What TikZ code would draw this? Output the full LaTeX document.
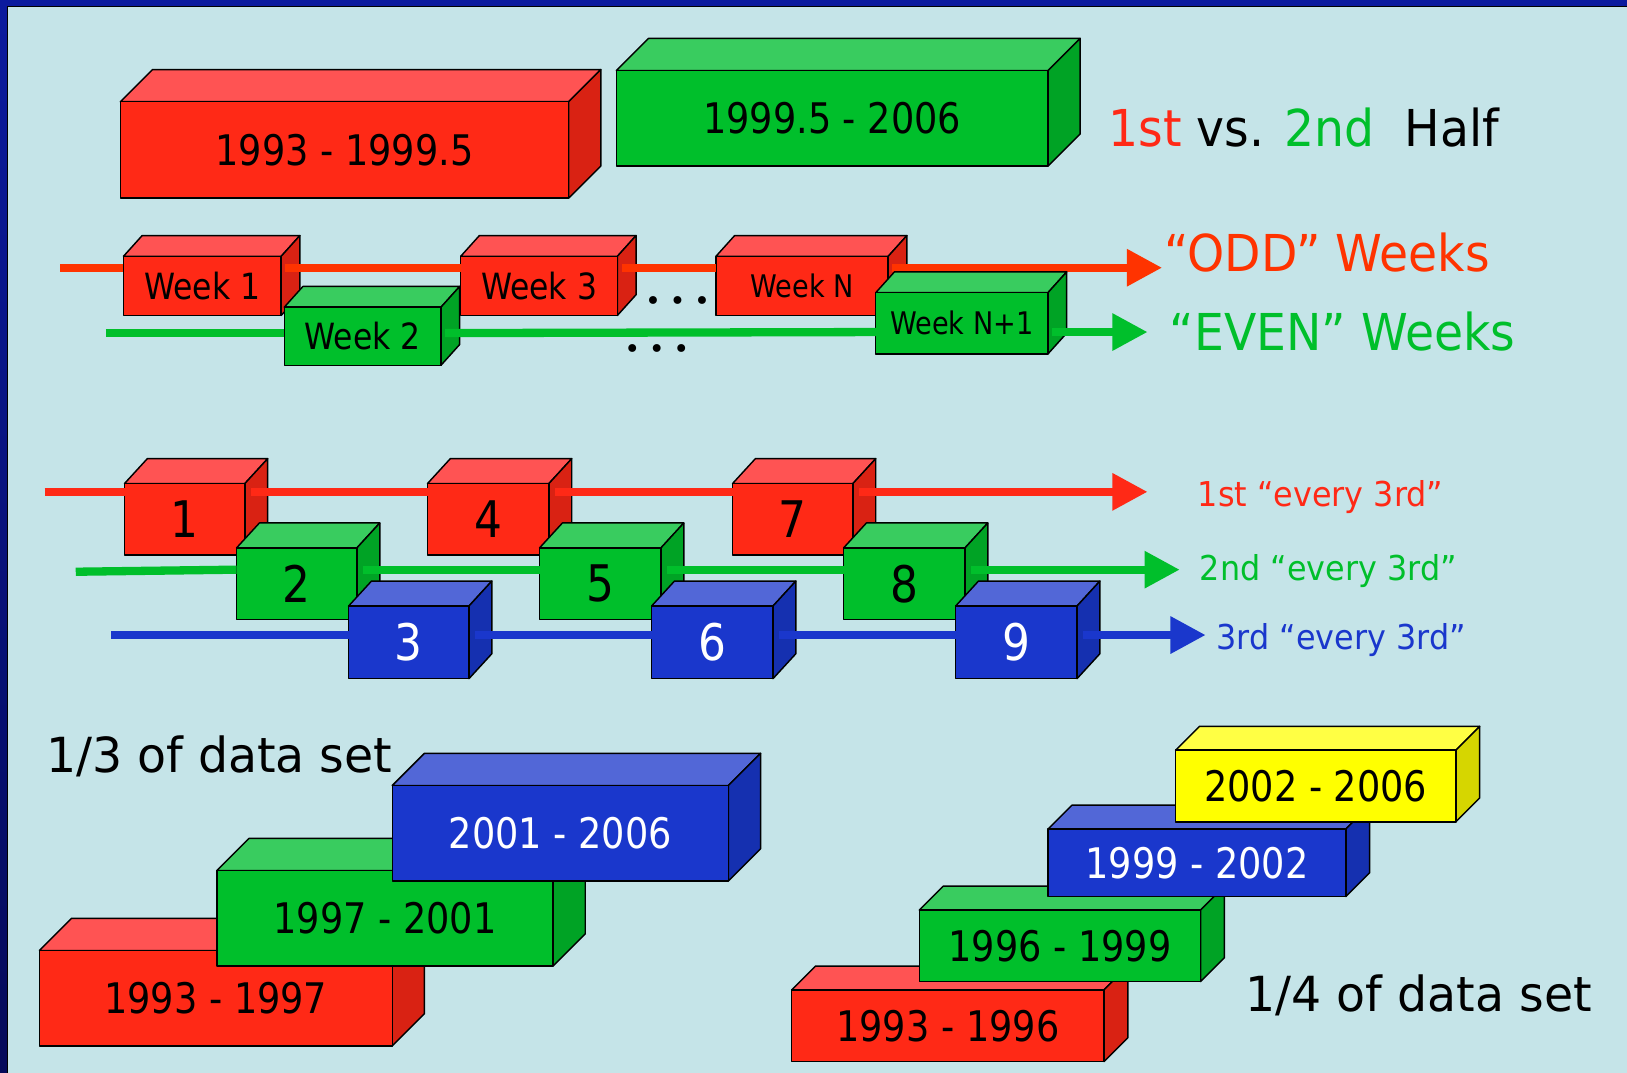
\documentclass[tikz,border=0pt]{standalone}
\usepackage{fontspec}
\setmainfont{DejaVu Sans}
\newfontfamily\bfnt{DejaVu Sans}[FakeStretch=0.87]
\newfontfamily\tfnt{DejaVu Sans}[FakeStretch=0.93]
\newfontfamily\wfnt{DejaVu Sans}[FakeStretch=0.98]
\usetikzlibrary{arrows.meta,calc}
\definecolor{bgc}{HTML}{C5E4E8}
\definecolor{topblue}{HTML}{0B1A9E}
\definecolor{navy}{HTML}{050A5A}
\definecolor{cRF}{HTML}{FF2916}
\definecolor{cRT}{HTML}{FF5353}
\definecolor{cRS}{HTML}{D92213}
\definecolor{cGF}{HTML}{00BF2B}
\definecolor{cGT}{HTML}{39CC5F}
\definecolor{cGS}{HTML}{00A325}
\definecolor{cBF}{HTML}{1A37CC}
\definecolor{cBT}{HTML}{5267D7}
\definecolor{cBS}{HTML}{1530B0}
\definecolor{cYF}{HTML}{FFFF00}
\definecolor{cYT}{HTML}{FFFF44}
\definecolor{cYS}{HTML}{D6D600}
\definecolor{lineRed}{HTML}{FF3300}
\tikzset{
  cubeline/.style={draw=black, line width=0.7pt, line join=round},
  bigtxt/.style={font=\bfnt\fontsize{20.3}{24}\selectfont},
  wktxt/.style={font=\bfnt\fontsize{17.4}{20}\selectfont},
  wkNtxt/.style={font=\bfnt\fontsize{15}{18}\selectfont},
  numtxt/.style={font=\bfnt\fontsize{24.3}{28}\selectfont},
  whitetxt/.style={text=white},
  flow/.style={line width=4pt},
  tip/.style={-{Triangle[length=17pt,width=17pt]}},
  label3/.style={font=\tfnt\fontsize{16.5}{20}\selectfont, inner sep=0pt, anchor=base west},
  bigword/.style={font=\tfnt\fontsize{24.5}{28}\selectfont, inner sep=0pt, anchor=base west},
  setword/.style={font=\wfnt\fontsize{23.3}{28}\selectfont, inner sep=0pt, anchor=base west},
  dots/.style={font=\fontsize{13}{14}\selectfont, inner sep=0pt}
}
% name, corner1, corner2, depth, colour prefix, text style, text
\newcommand\mkcube[7]{%
  \coordinate (#1p) at (#2);
  \coordinate (#1q) at (#3);
  \filldraw[cubeline, fill=#5T] (#1p) -- ++(#4) -- ($(#1q |- #1p)+(#4)$) -- (#1q |- #1p) -- cycle;
  \filldraw[cubeline, fill=#5S] (#1q |- #1p) -- ++(#4) -- ($(#1q)+(#4)$) -- (#1q) -- cycle;
  \path let \p1=(#1p), \p2=(#1q) in
    node[cubeline, fill=#5F, inner sep=0pt, outer sep=0pt,
         minimum width={abs(\x2-\x1)}, minimum height={abs(\y2-\y1)}, #6]
    (#1) at ($(#1p)!0.5!(#1q)$) {#7};
}
\begin{document}
\begin{tikzpicture}[x=0.5pt, y=-0.5pt]
\useasboundingbox (0,0) rectangle (1568,1034);
\fill[bgc] (0,0) rectangle (1568,1034);
\fill[topblue] (0,0) rectangle (1568,6);
\shade[top color=topblue, bottom color=navy] (0,0) rectangle (7,1034);
\draw[black, line width=0.6pt] (7,1034) -- (7,6) -- (1568,6);

% ---------- 1st vs 2nd half ----------
\mkcube{hA}{116,98}{548,191}{31,-31}{cR}{bigtxt}{1993 - 1999.5}
\mkcube{hB}{594,68}{1010,160}{31,-31}{cG}{bigtxt}{1999.5 - 2006}
\node[bigword] (half) at (1068,141) {\textcolor{cRF}{1st} vs. \textcolor{cGF}{2nd}\ \ Half};

% ---------- odd / even weeks ----------
\coordinate (oddS) at (58,258);
\coordinate (oddE) at (1120,258);
\coordinate (evenS) at (102,321);
\coordinate (evenE) at (1106,320);

\mkcube{w1}{119,247}{271,304}{18,-20}{cR}{wktxt}{Week 1}
\mkcube{w3}{444,247}{595,304}{18,-20}{cR}{wktxt}{Week 3}
\mkcube{wN}{690,247}{856,304}{18,-20}{cR}{wkNtxt}{Week N}
\draw[flow, lineRed] (oddS) -- (w1.west |- oddS);
\draw[flow, lineRed] ([xshift=2pt]w1.east |- oddS) -- (w3.west |- oddS);
\draw[flow, lineRed] ([xshift=2pt]w3.east |- oddS) -- (wN.west |- oddS);
\draw[flow, lineRed, tip] ([xshift=2pt]wN.east |- oddS) -- (oddE);
\node[dots] (oddDots) at (653,293) {• • •};
\node[bigword, text=lineRed] (oddLbl) at (1122,262) {“ODD” Weeks};

\mkcube{w2}{274,296}{425,352}{18,-20}{cG}{wktxt}{Week 2}
\mkcube{wM}{844,282}{1010,341}{18,-20}{cG}{wkNtxt}{Week N+1}
\draw[flow, cGF] (evenS) -- (w2.west |- evenS);
\draw[flow, cGF] ([xshift=2pt]w2.east |- evenS) -- (wM.west |- evenE);
\draw[flow, cGF, tip] ([xshift=2pt]wM.east |- evenE) -- (evenE);
\node[dots] (evenDots) at (633,339) {• • •};
\node[bigword, text=cGF] (evenLbl) at (1127,338) {“EVEN” Weeks};

% ---------- every 3rd ----------
\coordinate (rS) at (43,474);
\coordinate (rE) at (1106,474);
\coordinate (gS) at (73,551);
\coordinate (gE) at (1137,549);
\coordinate (bS) at (107,612);
\coordinate (bE) at (1162,612);

\mkcube{n1}{120,466}{236,535}{22,-24}{cR}{numtxt}{1}
\mkcube{n4}{412,466}{529,535}{22,-24}{cR}{numtxt}{4}
\mkcube{n7}{706,466}{822,535}{22,-24}{cR}{numtxt}{7}
\draw[flow, cRF] (rS) -- (n1.west |- rS);
\draw[flow, cRF] ([xshift=3pt]n1.east |- rS) -- (n4.west |- rS);
\draw[flow, cRF] ([xshift=3pt]n4.east |- rS) -- (n7.west |- rS);
\draw[flow, cRF, tip] ([xshift=3pt]n7.east |- rS) -- (rE);
\node[label3, text=cRF] (l1) at (1154,488) {1st “every 3rd”};

\mkcube{n2}{228,528}{344,597}{22,-24}{cG}{numtxt}{2}
\mkcube{n5}{520,528}{637,597}{22,-24}{cG}{numtxt}{5}
\mkcube{n8}{813,528}{930,597}{22,-24}{cG}{numtxt}{8}
\draw[flow, cGF] (gS) -- (n2.west |- gE);
\draw[flow, cGF] ([xshift=3pt]n2.east |- gE) -- (n5.west |- gE);
\draw[flow, cGF] ([xshift=3pt]n5.east |- gE) -- (n8.west |- gE);
\draw[flow, cGF, tip] ([xshift=3pt]n8.east |- gE) -- (gE);
\node[label3, text=cGF] (l2) at (1156,559) {2nd “every 3rd”};

\mkcube{n3}{336,584}{452,654}{22,-24}{cB}{numtxt, whitetxt}{3}
\mkcube{n6}{628,584}{745,654}{22,-24}{cB}{numtxt, whitetxt}{6}
\mkcube{n9}{921,584}{1038,654}{22,-24}{cB}{numtxt, whitetxt}{9}
\draw[flow, cBF] (bS) -- (n3.west |- bS);
\draw[flow, cBF] ([xshift=3pt]n3.east |- bS) -- (n6.west |- bS);
\draw[flow, cBF] ([xshift=3pt]n6.east |- bS) -- (n9.west |- bS);
\draw[flow, cBF, tip] ([xshift=3pt]n9.east |- bS) -- (bE);
\node[label3, text=cBF] (l3) at (1172,626) {3rd “every 3rd”};

% ---------- thirds ----------
\node[setword] (third) at (44,744) {1/3 of data set};
\mkcube{a1}{38,916}{378,1008}{31,-31}{cR}{bigtxt}{1993 - 1997}
\mkcube{a2}{209,839}{533,931}{31,-31}{cG}{bigtxt}{1997 - 2001}
\mkcube{a3}{378,757}{702,849}{31,-31}{cB}{bigtxt, whitetxt}{2001 - 2006}

% ---------- quarters ----------
\mkcube{b1}{763,954}{1064,1023}{23,-23}{cR}{bigtxt}{1993 - 1996}
\mkcube{b2}{886,877}{1157,946}{23,-23}{cG}{bigtxt}{1996 - 1999}
\mkcube{b3}{1010,799}{1297,864}{23,-23}{cB}{bigtxt, whitetxt}{1999 - 2002}
\mkcube{b4}{1133,723}{1403,792}{23,-23}{cY}{bigtxt}{2002 - 2006}
\node[setword] (quarter) at (1200,975) {1/4 of data set};
\end{tikzpicture}
\end{document}
